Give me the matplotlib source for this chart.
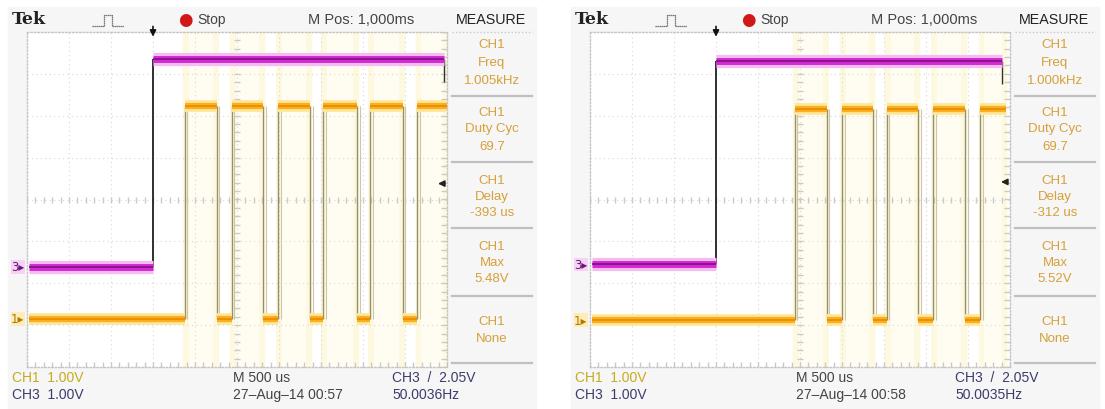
import matplotlib
matplotlib.use("Agg")
import matplotlib.pyplot as plt
from matplotlib.lines import Line2D
from matplotlib.patches import Rectangle
import numpy as np

W, H = 1105, 410

# ---------------- data (read from the two oscilloscope screens) ----------------
ch3_step_time = [3.0, 3.0]          # divisions from left of graticule
ch3_end_time = [9.92, 9.82]
ch3_low = [-1.61, -1.55]            # divisions from centre
ch3_high = [3.35, 3.30]
ch1_low = [-2.85, -2.88]
ch1_high = [2.23, 2.17]
ch1_edges_left = [3.76, 4.52, 4.88, 5.62, 5.98, 6.74, 7.05, 7.86, 8.17, 8.95, 9.29]
ch1_edges_right = [4.88, 5.64, 6.00, 6.74, 7.07, 7.81, 8.17, 8.93, 9.29]
ch1_end_time = [10.0, 9.9]
trigger_level = [0.38, 0.42]

freq_text = ["1.005kHz", "1.000kHz"]
duty_text = ["69.7", "69.7"]
delay_text = ["-393 us", "-312 us"]
max_text = ["5.48V", "5.52V"]
timestamp_text = ["27\u2013Aug\u201314 00:57", "27\u2013Aug\u201314 00:58"]
trig_freq_text = ["50.0036Hz", "50.0035Hz"]
ch1_edges = [ch1_edges_left, ch1_edges_right]

FONT = ["Liberation Sans", "DejaVu Sans"]
fig = plt.figure(figsize=(W / 100, H / 100), dpi=100)
fig.patch.set_facecolor("white")


def fx(x):
    return x / W


def fy(y):
    return 1 - y / H


def T(x, y, s, **kw):
    kw.setdefault("family", FONT)
    kw.setdefault("va", "center")
    return fig.text(fx(x), fy(y), s, **kw)


def L(xs, ys, **kw):
    fig.add_artist(Line2D([fx(v) for v in xs], [fy(v) for v in ys], **kw))


def hseg(ax, y, s, e, **kw):
    ax.hlines([y] * len(s), s, e, capstyle="butt", **kw)


for i, ox in enumerate([0, 563]):
    # panel background
    fig.add_artist(Rectangle((fx(8 + ox), fy(410)), 528 / W, 402 / H,
                             transform=fig.transFigure, color="#f6f6f6", zorder=0))

    ax = fig.add_axes([fx(27 + ox), fy(368), 420 / W, 335 / H])
    ax.set_xlim(0, 10)
    ax.set_ylim(-4, 4)
    ax.set_facecolor("white")
    ax.set_xticks([])
    ax.set_yticks([])
    for sp in ax.spines.values():
        sp.set_color("#c4c4c4")
        sp.set_linestyle((0, (1, 1.5)))
        sp.set_linewidth(1.0)
    for xv in range(1, 10):
        ax.axvline(xv, color="#d8d8d8", lw=0.8, ls=(0, (1, 3)), zorder=1)
    for yv in range(-3, 4):
        ax.axhline(yv, color="#d8d8d8", lw=0.8, ls=(0, (1, 3)), zorder=1)
    tx = np.arange(0, 10.01, 0.2)
    ty = np.arange(-4, 4.01, 0.2)
    ax.plot(tx, np.zeros_like(tx), ls="none", marker="|", ms=4, color="#cacaca", zorder=1)
    ax.plot(np.full_like(ty, 5.0), ty, ls="none", marker="_", ms=4, color="#cacaca", zorder=1)
    ax.plot(np.full_like(ty, 9.93), ty, ls="none", marker="_", ms=4, color="#cacaca", zorder=1)
    ax.plot(tx, np.full_like(tx, -3.95), ls="none", marker="|", ms=4, color="#cacaca", zorder=1)

    edges = ch1_edges[i]
    end = ch1_end_time[i]
    rises = edges[0::2]
    falls = edges[1::2] + ([end] if len(edges) % 2 == 1 else [])
    lows_end = rises + ([] if len(edges) % 2 == 1 else [end])
    lows_start = ([0.05] + falls)[:len(lows_end)]

    # pale persistence bands
    for r, f in zip(rises, falls):
        ax.axvspan(r - 0.06, f + 0.06, color="#fffdf1", zorder=0.5, lw=0)
        ax.axvspan(r - 0.04, r + 0.10, color="#fdf9e0", zorder=0.6, lw=0)
        ax.axvspan(f - 0.10, f + 0.04, color="#fdf9e0", zorder=0.6, lw=0)

    # CH1 (orange) trace
    hi, lo = ch1_high[i], ch1_low[i]
    ax.vlines(edges, lo, hi, color="#948e72", lw=1.0, zorder=3)
    ax.vlines([e + 0.06 for e in edges], lo, hi, color="#cfc7a2", lw=0.8, zorder=3)
    for y, s, e in [(hi, rises, falls), (lo, lows_start, lows_end)]:
        hseg(ax, y, s, e, color="#ffe79a", lw=8.5, zorder=4)
        hseg(ax, y, s, e, color="#f8b022", lw=4.5, zorder=5)
        hseg(ax, y, s, e, color="#ee8c00", lw=1.3, zorder=6)

    # CH3 (magenta) trace
    st, ce = ch3_step_time[i], ch3_end_time[i]
    c3l, c3h = ch3_low[i], ch3_high[i]
    ax.vlines([st], c3l, c3h, color="#202020", lw=1.3, zorder=3)
    ax.vlines([ce], c3h - 0.55, c3h, color="#303030", lw=1.0, zorder=3)
    for y, s, e in [(c3l, [0.05], [st]), (c3h, [st], [ce])]:
        hseg(ax, y, s, e, color="#f5bcf3", lw=9.5, zorder=4)
        hseg(ax, y, s, e, color="#d42ad2", lw=5, zorder=5)
        hseg(ax, y, s, e, color="#7d1080", lw=1.2, zorder=6)

    # channel markers
    ax.text(-0.06, c3l, "3\u25b8", ha="right", va="center", fontsize=8.5,
            color="#6a1a78", family="DejaVu Sans", clip_on=False,
            bbox=dict(boxstyle="square,pad=0.03", fc="#f8d2f6", ec="none"))
    ax.text(-0.06, lo, "1\u25b8", ha="right", va="center", fontsize=8.5,
            color="#b07a00", family="DejaVu Sans", clip_on=False,
            bbox=dict(boxstyle="square,pad=0.03", fc="#fdebb8", ec="none"))

    # trigger markers
    ax.annotate("", xy=(st, 3.82), xytext=(st, 4.2), annotation_clip=False,
                arrowprops=dict(arrowstyle="-|>", color="#111111", lw=1.2,
                                mutation_scale=9))
    ax.annotate("", xy=(9.72, trigger_level[i]), xytext=(10.0, trigger_level[i]),
                annotation_clip=False,
                arrowprops=dict(arrowstyle="-|>", color="#222222", lw=1.2,
                                mutation_scale=9))

    # ------------- top bar -------------
    T(12 + ox, 20, "Tek", family="DejaVu Serif", fontweight="bold", fontsize=12.5,
      color="#222222")
    L([92 + ox, 104 + ox, 104 + ox, 112 + ox, 112 + ox, 124 + ox],
      [27, 27, 16, 16, 27, 27], color="#555555", lw=0.9, ls=(0, (1, 0.6)))
    T(178 + ox, 20, "\u25cf", family="DejaVu Sans", fontsize=12, color="#d01818")
    T(197 + ox, 20, "Stop", fontsize=10, color="#444444")
    T(308 + ox, 20, "M Pos: 1,000ms", fontsize=10.5, color="#444444")
    T(456 + ox, 20, "MEASURE", fontsize=10.3, color="#222222")
    L([452 + ox, 532 + ox], [33, 33], color="#c8c8c8", lw=1, ls=(0, (1, 1.5)))

    # ------------- measurement column -------------
    mc = "#d6a03a"
    cx = 492 + ox
    rows = [(45, "CH1"), (63, "Freq"), (81, freq_text[i]),
            (113, "CH1"), (129, "Duty Cyc"), (147, duty_text[i]),
            (181, "CH1"), (197, "Delay"), (213, delay_text[i]),
            (247, "CH1"), (263, "Max"), (279, max_text[i]),
            (322, "CH1"), (339, "None")]
    for y, s in rows:
        T(cx, y, s, ha="center", fontsize=9.5, color=mc)
    for y in [97, 163, 229, 297, 364]:
        L([452 + ox, 532 + ox], [y, y], color="#c0c0c0", lw=1.6)

    # ------------- bottom bar -------------
    T(12 + ox, 378, "CH1  1.00V", fontsize=10, color="#c4ac20")
    T(12 + ox, 395, "CH3  1.00V", fontsize=10, color="#3c3c6c")
    T(233 + ox, 378, "M 500 us", fontsize=10, color="#444444")
    T(233 + ox, 395, timestamp_text[i], fontsize=10, color="#444444")
    T(392 + ox, 378, "CH3  /  2.05V", fontsize=10, color="#3c3c6c")
    T(392 + ox, 395, trig_freq_text[i], fontsize=10, color="#3c3c6c")

fig.savefig("out.png", dpi=100, facecolor=fig.get_facecolor())
